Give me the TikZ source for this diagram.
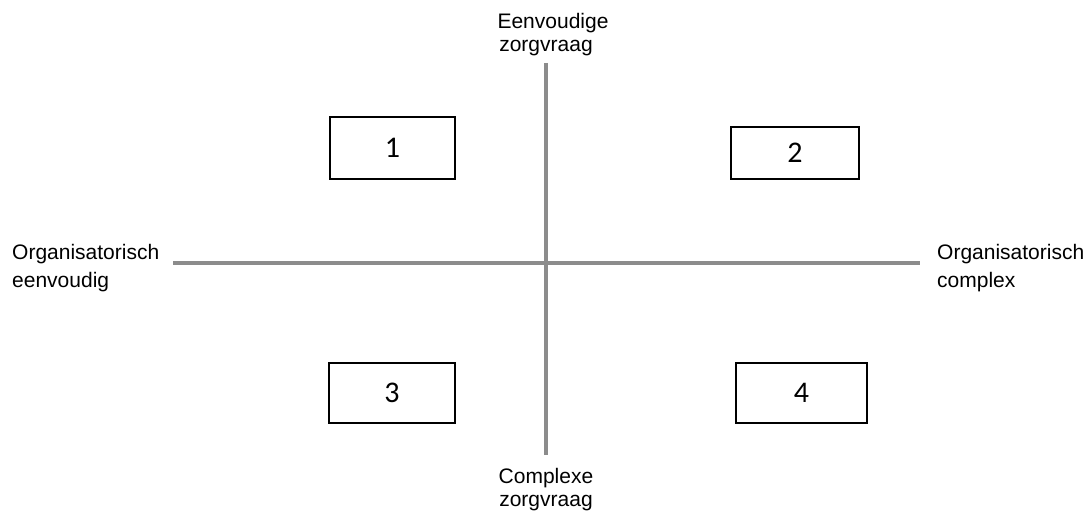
\documentclass[tikz,border=0pt]{standalone}
\usepackage{fontspec}
\setmainfont{Liberation Sans}
\newfontfamily\numfont{Carlito}
\begin{document}
\begin{tikzpicture}[x=1pt,y=-1pt,
  axis/.style={draw=axisgray,line width=4pt},
  numbox/.style={draw=black,line width=2pt,minimum width=#1,inner sep=0pt,font=\numfont\fontsize{30}{32}\selectfont},
  sidelabel/.style={inner sep=0pt,align=left,font=\fontsize{21}{28}\selectfont},
  endlabel/.style={inner sep=0pt,align=center,font=\fontsize{21}{23}\selectfont}]
\definecolor{axisgray}{HTML}{8C8C8C}
\useasboundingbox (0,0) rectangle (1086,516);
% axes
\coordinate (vtop) at (546,63);
\coordinate (vbot) at (546,455);
\coordinate (hleft) at (173,263);
\coordinate (hright) at (920,263);
\draw[axis] (vtop) -- (vbot);
\draw[axis] (hleft) -- (hright);
% boxes
\node[numbox=125pt,minimum height=62pt] (b1) at (392.5,148) {1};
\node[numbox=128pt,minimum height=52pt] (b2) at (795,153) {2};
\node[numbox=126pt,minimum height=60pt] (b3) at (392,393) {3};
\node[numbox=131pt,minimum height=60pt] (b4) at (801.5,393) {4};
% labels
\node[endlabel,anchor=north] (ltop) at (546,12.7) {\hspace*{14pt}Eenvoudige\\zorgvraag};
\node[endlabel,anchor=north] (lbot) at (546,467.7) {Complexe\\zorgvraag};
\node[sidelabel,anchor=north west] (lleft) at (12,243.7) {Organisatorisch\\eenvoudig};
\node[sidelabel,anchor=north west] (lright) at (937,243.7) {Organisatorisch\\complex};
\end{tikzpicture}
\end{document}
